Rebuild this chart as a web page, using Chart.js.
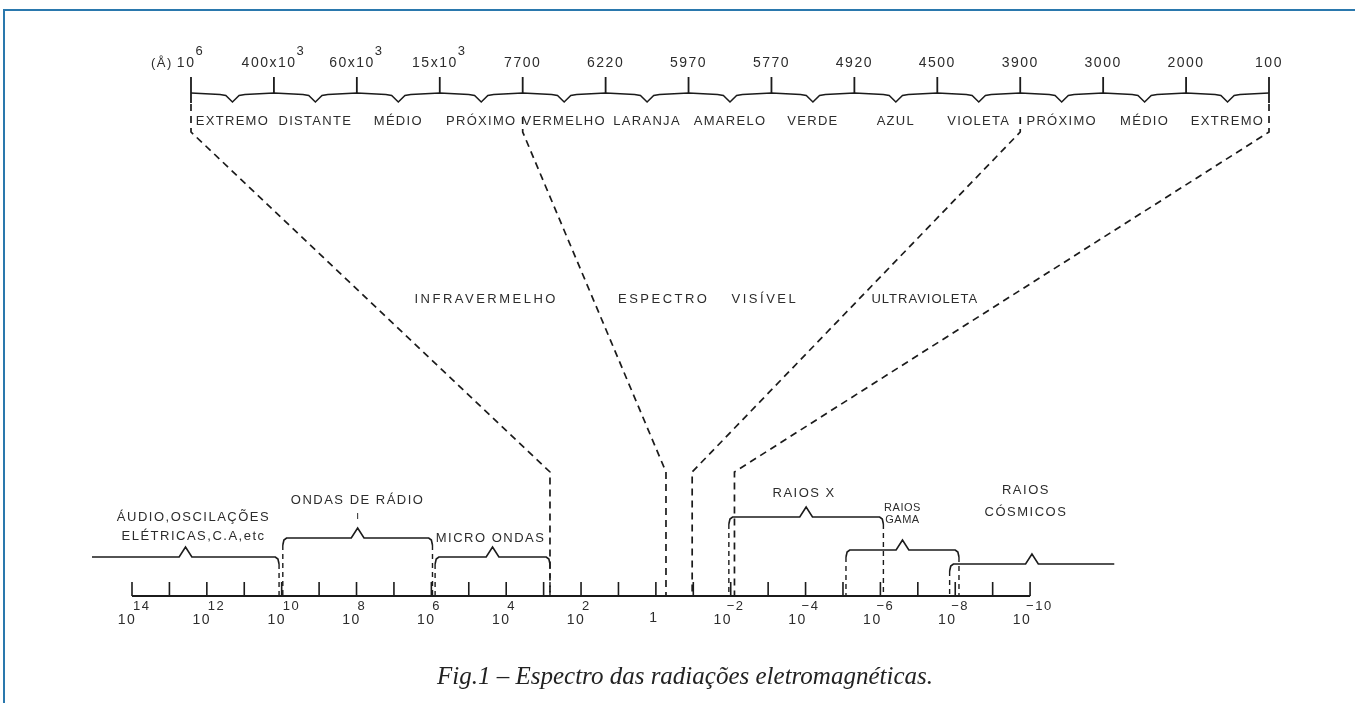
<!DOCTYPE html>
<html>
<head>
<meta charset="utf-8">
<title>Espectro das radiações eletromagnéticas</title>
<script src="https://cdn.jsdelivr.net/npm/chart.js@4.4.1/dist/chart.umd.min.js"></script>
<style>
  html, body { margin: 0; padding: 0; background: #fff; }
  #wrap { width: 1355px; height: 703px; }
</style>
</head>
<body>
<div id="wrap"><canvas id="spectrum"></canvas></div>
<script>
"use strict";

// detail band on top (wavelengths in Angstrom)
let topTickBase = ["10", "400x10", "60x10", "15x10", "7700", "6220", "5970", "5770", "4920", "4500", "3900", "3000", "2000", "100"];
let topTickExp = ["6", "3", "3", "3", "", "", "", "", "", "", "", "", "", ""];
let topBands = ["EXTREMO", "DISTANTE", "MÉDIO", "PRÓXIMO", "VERMELHO", "LARANJA", "AMARELO", "VERDE", "AZUL", "VIOLETA", "PRÓXIMO", "MÉDIO", "EXTREMO"];

// the three regions that get blown up, and where they land on the main scale
let regionNames = ["INFRAVERMELHO", "ESPECTRO VISÍVEL", "ULTRAVIOLETA"];
let zoomTopIdx = [0, 4, 10, 13];
let zoomBotExp = [2.83, -0.27, -0.97, -2.1];

// main scale (powers of ten)
let axisExp = [14, 13, 12, 11, 10, 9, 8, 7, 6, 5, 4, 3, 2, 1, 0, -1, -2, -3, -4, -5, -6, -7, -8, -9, -10];
let axisLabelExp = [14, 12, 10, 8, 6, 4, 2, 0, -2, -4, -6, -8, -10];

// bands on the main scale
let bandNames = [["ÁUDIO,OSCILAÇÕES", "ELÉTRICAS,C.A,etc"], ["ONDAS DE RÁDIO"], ["MICRO ONDAS"], ["RAIOS X"], ["RAIOS", "GAMA"], ["RAIOS", "CÓSMICOS"]];
let bandFrom = [15.07, 9.97, 5.9, -1.95, -5.08, -7.85];
let bandTo = [10.07, 5.97, 2.83, -6.08, -8.1, -12.25];

// layout (vertical levels, px)
const Y = {
    topLabel: 63, topExp: 51, tickTop: 77, brace: 93, endTick: 103,
    bandLabel: 121, bend: 132, region: 299, knee: 472,
    tickUp: 582, axis: 596, expRow: 606, baseRow: 620, caption: 677
};
let bandLevel = [557, 538, 557, 517, 550, 564];
let bandLabelY = [[517, 536], [500], [538], [493], [508, 520], [490, 512]];
let bandLabelDx = [8, 0, -2, -2, 0, -6];
let bandLabelSize = [13, 13, 13, 13, 11, 13];
let regionDx = [6, -18, -8];
let regionSpacing = [2.5, 2.5, 1];

const ink = "#1b1b1b";
const textInk = "#2c2c2c";
const FONT = '"Liberation Sans", Arial, sans-serif';

// top brace with little V under each interval
function topBracePoints() {
    let pts = [];
    for (let i = 0; i < topBands.length; i++) {
        pts.push({ x: i, y: Y.brace });
        pts.push({ x: i + 0.35, y: Y.brace + 1.5 });
        pts.push({ x: i + 0.42, y: Y.brace + 2.5 });
        pts.push({ x: i + 0.5, y: Y.brace + 9 });
        pts.push({ x: i + 0.58, y: Y.brace + 2.5 });
        pts.push({ x: i + 0.65, y: Y.brace + 1.5 });
    }
    pts.push({ x: topBands.length, y: Y.brace });
    return pts;
}

function topTickPoints() {
    let pts = [];
    topTickBase.forEach((t, i) => {
        let end = (i === 0 || i === topTickBase.length - 1) ? Y.endTick : Y.brace;
        pts.push({ x: i, y: Y.tickTop }, { x: i, y: end }, { x: i, y: null });
    });
    return pts;
}

function axisTickPoints() {
    let pts = [];
    axisExp.forEach(e => {
        pts.push({ x: e, y: Y.tickUp }, { x: e, y: Y.axis }, { x: e, y: null });
    });
    return pts;
}

function isClosed(e) {
    return e <= axisExp[0] && e >= axisExp[axisExp.length - 1];
}

function bandBracePoints() {
    let pts = [];
    bandFrom.forEach((a, k) => {
        let b = bandTo[k];
        let lv = bandLevel[k];
        let s = Math.sign(b - a);
        let mid = (a + b) / 2;
        if (isClosed(a)) {
            pts.push({ x: a, y: lv + 7 }, { x: a + s * 0.03, y: lv + 2 }, { x: a + s * 0.1, y: lv });
        } else {
            pts.push({ x: a, y: lv });
        }
        pts.push({ x: mid - s * 0.17, y: lv }, { x: mid, y: lv - 10 }, { x: mid + s * 0.17, y: lv });
        if (isClosed(b)) {
            pts.push({ x: b - s * 0.1, y: lv }, { x: b - s * 0.03, y: lv + 2 }, { x: b, y: lv + 7 });
        } else {
            pts.push({ x: b, y: lv });
        }
        pts.push({ x: b, y: null });
    });
    return pts;
}

function bandDropPoints() {
    let pts = [];
    bandFrom.forEach((a, k) => {
        [a, bandTo[k]].forEach(e => {
            if (isClosed(e)) {
                pts.push({ x: e, y: bandLevel[k] + 7 }, { x: e, y: Y.axis }, { x: e, y: null });
            }
        });
    });
    return pts;
}

function lineSet(data, xAxisID, opts) {
    return Object.assign({
        data: data,
        xAxisID: xAxisID,
        yAxisID: "y",
        borderColor: ink,
        borderWidth: 1.6,
        pointRadius: 0,
        tension: 0,
        spanGaps: false,
        fill: false
    }, opts || {});
}

function setSpacing(ctx, px) {
    if ("letterSpacing" in ctx) ctx.letterSpacing = px + "px";
}

// text with a raised exponent, centred on x
function supText(ctx, base, exp, x, y, size, expSize, expY) {
    ctx.font = size + "px " + FONT;
    let wb = ctx.measureText(base).width;
    ctx.font = expSize + "px " + FONT;
    let we = exp ? ctx.measureText(exp).width + 1 : 0;
    let left = x - (wb + we) / 2;
    ctx.textAlign = "left";
    ctx.font = size + "px " + FONT;
    ctx.fillText(base, left, y);
    if (exp) {
        ctx.font = expSize + "px " + FONT;
        ctx.fillText(exp, left + wb, expY);
    }
    return left;
}

const paperPlugin = {
    id: "paper",
    beforeDraw(chart) {
        let ctx = chart.ctx;
        ctx.save();
        ctx.fillStyle = "#ffffff";
        ctx.fillRect(0, 0, chart.width, chart.height);
        ctx.strokeStyle = "#2a78ad";
        ctx.lineWidth = 2;
        ctx.beginPath();
        ctx.moveTo(4, chart.height);
        ctx.lineTo(4, 10);
        ctx.lineTo(chart.width, 10);
        ctx.stroke();
        ctx.restore();
    }
};

const labelPlugin = {
    id: "labels",
    afterDatasetsDraw(chart) {
        let ctx = chart.ctx;
        let xt = chart.scales.xTop;
        let xb = chart.scales.xBot;
        let yy = chart.scales.y;
        ctx.save();

        // dashed connectors from the detail band down to the main scale
        ctx.strokeStyle = ink;
        ctx.lineWidth = 1.7;
        ctx.setLineDash([7, 5]);
        let conn = zoomTopIdx.map((idx, k) => {
            let end = (idx === 0 || idx === topTickBase.length - 1);
            return {
                x0: xt.getPixelForValue(idx),
                y0: yy.getPixelForValue(end ? Y.endTick + 1 : Y.bandLabel - 4),
                yb: yy.getPixelForValue(Y.bend),
                x1: xb.getPixelForValue(zoomBotExp[k]),
                y1: yy.getPixelForValue(Y.knee),
                y2: yy.getPixelForValue(Y.axis)
            };
        });
        conn.forEach(c => {
            ctx.beginPath();
            ctx.moveTo(c.x0, c.y0);
            ctx.lineTo(c.x0, c.yb);
            ctx.lineTo(c.x1, c.y1);
            ctx.lineTo(c.x1, c.y2);
            ctx.stroke();
        });
        ctx.setLineDash([]);

        ctx.fillStyle = textInk;
        ctx.textBaseline = "middle";

        // top tick labels
        setSpacing(ctx, 1.5);
        topTickBase.forEach((b, i) => {
            let left = supText(ctx, b, topTickExp[i], xt.getPixelForValue(i), yy.getPixelForValue(Y.topLabel), 14, 13, yy.getPixelForValue(Y.topExp));
            if (i === 0) {
                ctx.font = "13px " + FONT;
                ctx.textAlign = "right";
                ctx.fillText("(Å)", left - 4, yy.getPixelForValue(Y.topLabel));
            }
        });

        // names of the detail intervals
        setSpacing(ctx, 1.3);
        ctx.font = "13px " + FONT;
        ctx.textAlign = "center";
        topBands.forEach((n, i) => {
            ctx.fillText(n, xt.getPixelForValue(i + 0.5), yy.getPixelForValue(Y.bandLabel));
        });

        // region names between the connectors
        let ry = yy.getPixelForValue(Y.region);
        let xAt = c => c.x0 + (c.x1 - c.x0) * (ry - c.yb) / (c.y1 - c.yb);
        if ("wordSpacing" in ctx) ctx.wordSpacing = "16px";
        regionNames.forEach((n, k) => {
            setSpacing(ctx, regionSpacing[k]);
            ctx.fillText(n, (xAt(conn[k]) + xAt(conn[k + 1])) / 2 + regionDx[k], ry);
        });
        if ("wordSpacing" in ctx) ctx.wordSpacing = "0px";

        // band names on the main scale
        bandNames.forEach((lines, k) => {
            let mx = xb.getPixelForValue((bandFrom[k] + bandTo[k]) / 2);
            ctx.font = bandLabelSize[k] + "px " + FONT;
            setSpacing(ctx, bandLabelSize[k] < 13 ? 0.5 : 1.5);
            lines.forEach((ln, j) => {
                ctx.fillText(ln, mx + bandLabelDx[k], yy.getPixelForValue(bandLabelY[k][j]));
            });
        });
        // small pointer under ONDAS DE RÁDIO
        ctx.strokeStyle = textInk;
        ctx.lineWidth = 1;
        let rx = xb.getPixelForValue((bandFrom[1] + bandTo[1]) / 2);
        ctx.beginPath();
        ctx.moveTo(rx, yy.getPixelForValue(513));
        ctx.lineTo(rx, yy.getPixelForValue(519));
        ctx.stroke();

        // main scale labels
        setSpacing(ctx, 1.5);
        axisLabelExp.forEach(e => {
            let x = xb.getPixelForValue(e);
            ctx.textAlign = "center";
            ctx.font = "14px " + FONT;
            if (e === 0) {
                ctx.fillText("1", x - 2, yy.getPixelForValue(Y.baseRow - 2));
                return;
            }
            ctx.fillText("10", x + (e > 0 ? -5 : -8), yy.getPixelForValue(Y.baseRow));
            ctx.font = "13px " + FONT;
            ctx.textAlign = "left";
            let ex = e > 0 ? String(e) : "\u2212" + Math.abs(e);
            ctx.fillText(ex, x + (e > 0 ? 1 : -4), yy.getPixelForValue(Y.expRow));
        });

        // caption
        setSpacing(ctx, 0);
        ctx.font = 'italic 25px "Liberation Serif", "Times New Roman", serif';
        ctx.textAlign = "center";
        ctx.fillStyle = "#222";
        ctx.fillText("Fig.1 \u2013 Espectro das radiações eletromagnéticas.", 685, yy.getPixelForValue(Y.caption));
        ctx.restore();
    }
};

let axisLine = [{ x: axisExp[0], y: Y.axis }, { x: axisExp[axisExp.length - 1], y: Y.axis }];

new Chart(document.getElementById("spectrum"), {
    type: "line",
    data: {
        datasets: [
            lineSet(topBracePoints(), "xTop", { borderWidth: 1.5 }),
            lineSet(topTickPoints(), "xTop", { borderWidth: 1.8 }),
            lineSet(axisLine, "xBot", { borderWidth: 1.8 }),
            lineSet(axisTickPoints(), "xBot", { borderWidth: 1.6 }),
            lineSet(bandBracePoints(), "xBot", { borderWidth: 1.6 }),
            lineSet(bandDropPoints(), "xBot", { borderWidth: 1.4, borderDash: [5, 4] })
        ]
    },
    options: {
        responsive: true,
        maintainAspectRatio: false,
        animation: false,
        layout: { padding: 0 },
        plugins: { legend: { display: false }, tooltip: { enabled: false } },
        scales: {
            xTop: { type: "linear", axis: "x", display: false, min: -2.3033, max: 14.0371 },
            xBot: { type: "linear", axis: "x", display: false, reverse: true, min: -18.683, max: 17.5275 },
            y: { type: "linear", display: false, reverse: true, min: 0, max: 703 }
        }
    },
    plugins: [paperPlugin, labelPlugin]
});
</script>
</body>
</html>
